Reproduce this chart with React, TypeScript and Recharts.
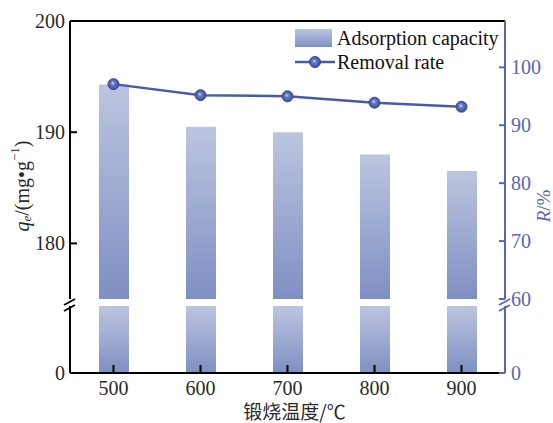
import React from 'react';
import {
  ComposedChart,
  Bar,
  Line,
  XAxis,
  YAxis,
  ReferenceLine,
  Legend
} from 'recharts';

// calcination temperature (°C)
const temperatures = ['500', '600', '700', '800', '900'];
// q_e, mg/g (left axis)
const adsorptionCapacity = [194.3, 190.5, 190.0, 188.0, 186.5];
// R, % (right axis)
const removalRate = [97.1, 95.2, 95.0, 93.9, 93.2];

const leftUpperTicks = [180, 190, 200];
const rightUpperTicks = [60, 70, 80, 90, 100];
const leftLowerTicks = [0];
const rightLowerTicks = [0];
const seriesNames = ['Adsorption capacity', 'Removal rate'];
const xAxisTitle = '锻烧温度/℃';

const chartData = temperatures.map((t, i) => ({
  temp: t,
  q: adsorptionCapacity[i],
  r: removalRate[i]
}));

const SERIF = '"Liberation Serif", "DejaVu Serif", serif';
const CJK = '"Noto Sans CJK SC", sans-serif';
const AXIS_BLUE = '#5767b3';
const LINE_BLUE = '#4a5aa8';
const BAR_TOP = '#bcc5e0';
const BAR_BOTTOM = '#7e8fc2';
const TEXT = '#2a2a2a';

const LeftTick = ({ x, y, payload }: any) => (
  <g>
    <line x1={x} y1={y} x2={x + 7} y2={y} stroke="#000" strokeWidth={2} />
    <text x={x - 5} y={y} dy={7} textAnchor="end" fontSize={20} fill={TEXT} fontFamily={SERIF}>
      {payload.value}
    </text>
  </g>
);

const RightTick = ({ x, y, payload }: any) => (
  <g>
    <line x1={x} y1={y} x2={x - 6} y2={y} stroke={AXIS_BLUE} strokeWidth={2} />
    <text x={x + 6} y={y} dy={7} textAnchor="start" fontSize={20} fill={AXIS_BLUE} fontFamily={SERIF}>
      {payload.value}
    </text>
  </g>
);

const BottomTick = ({ x, y, payload }: any) => (
  <g>
    <line x1={x} y1={y - 1} x2={x} y2={y - 8} stroke="#000" strokeWidth={2} />
    <text x={x} y={y + 22} textAnchor="middle" fontSize={20} fill={TEXT} fontFamily={SERIF}>
      {payload.value}
    </text>
  </g>
);

const LeftTitle = ({ viewBox }: any) => {
  const cx = viewBox.x + 22;
  const cy = viewBox.y + viewBox.height / 2 + 26;
  return (
    <text
      x={cx}
      y={cy}
      transform={`rotate(-90 ${cx} ${cy})`}
      textAnchor="middle"
      dominantBaseline="central"
      fontSize={20}
      fill={TEXT}
      fontFamily={SERIF}
    >
      <tspan fontStyle="italic">q</tspan>
      <tspan fontStyle="italic" fontSize={13} dy={4}>e</tspan>
      <tspan dy={-4}>/(mg•g</tspan>
      <tspan fontSize={13} dy={-8}>−1</tspan>
      <tspan dy={8}>)</tspan>
    </text>
  );
};

const RightTitle = ({ viewBox }: any) => {
  const cx = viewBox.x + 38;
  const cy = viewBox.y + 185;
  return (
    <text
      x={cx}
      y={cy}
      transform={`rotate(-90 ${cx} ${cy})`}
      textAnchor="middle"
      dominantBaseline="central"
      fontSize={19}
      fill={AXIS_BLUE}
      fontFamily={SERIF}
    >
      <tspan fontStyle="italic">R</tspan>
      <tspan>/%</tspan>
    </text>
  );
};

const BottomTitle = ({ viewBox }: any) => (
  <text
    x={viewBox.x + viewBox.width / 2 + 7}
    y={viewBox.y + 46}
    textAnchor="middle"
    fontSize={19}
    fill={TEXT}
    fontFamily={CJK}
  >
    {xAxisTitle}
  </text>
);

const LegendContent = () => (
  <div style={{ fontFamily: SERIF, fontSize: 20, color: '#111', lineHeight: '24px' }}>
    <div style={{ display: 'flex', alignItems: 'center', height: 24 }}>
      <svg width={37} height={18}>
        <defs>
          <linearGradient id="legendBarGrad" x1="0" y1="0" x2="0" y2="1">
            <stop offset="0%" stopColor={BAR_TOP} />
            <stop offset="100%" stopColor={BAR_BOTTOM} />
          </linearGradient>
        </defs>
        <rect width={37} height={18} fill="url(#legendBarGrad)" />
      </svg>
      <span style={{ marginLeft: 5, whiteSpace: 'nowrap' }}>{seriesNames[0]}</span>
    </div>
    <div style={{ display: 'flex', alignItems: 'center', height: 24 }}>
      <svg width={40} height={14}>
        <line x1={0} y1={7} x2={40} y2={7} stroke={LINE_BLUE} strokeWidth={2.5} />
        <circle cx={20} cy={7} r={5.5} fill="url(#markerGrad)" stroke="#3d4c99" strokeWidth={1} />
      </svg>
      <span style={{ marginLeft: 2, whiteSpace: 'nowrap' }}>{seriesNames[1]}</span>
    </div>
  </div>
);

const BreakMarks = ({ x, color }: { x: number; color: string }) => (
  <g stroke={color} strokeWidth={1.8}>
    <line x1={x - 6} y1={305} x2={x + 5} y2={299} />
    <line x1={x - 6} y1={311} x2={x + 5} y2={305} />
  </g>
);

export default function App() {
  return (
    <div style={{ position: 'absolute', left: 0, top: 0, width: 553, height: 423, background: '#fff' }}>
      {/* upper part of broken axes (extra bottom margin leaves room for the "60" label) */}
      <div style={{ position: 'absolute', left: 0, top: 0 }}>
        <ComposedChart
          width={553}
          height={312}
          data={chartData}
          margin={{ top: 21, right: 0, bottom: 13, left: 0 }}
        >
          <defs>
            <linearGradient id="barGrad" x1="0" y1="0" x2="0" y2="1">
              <stop offset="0%" stopColor={BAR_TOP} />
              <stop offset="100%" stopColor={BAR_BOTTOM} />
            </linearGradient>
            <radialGradient id="markerGrad" cx="0.5" cy="0.5" r="0.5" fx="0.42" fy="0.38">
              <stop offset="0%" stopColor="#d4daf0" />
              <stop offset="35%" stopColor="#6a7bc3" />
              <stop offset="100%" stopColor="#3b4a97" />
            </radialGradient>
          </defs>
          <XAxis dataKey="temp" hide />
          <YAxis
            yAxisId="left"
            width={70}
            domain={[175, 200]}
            ticks={leftUpperTicks}
            interval={0}
            allowDataOverflow
            axisLine={{ stroke: '#000', strokeWidth: 2 }}
            tickLine={false}
            tickSize={0}
            tickMargin={0}
            tick={<LeftTick />}
            label={<LeftTitle />}
          />
          <YAxis
            yAxisId="right"
            orientation="right"
            width={48}
            domain={[60, 108]}
            ticks={rightUpperTicks}
            interval={0}
            allowDataOverflow
            axisLine={{ stroke: AXIS_BLUE, strokeWidth: 2 }}
            tickLine={false}
            tickSize={0}
            tickMargin={0}
            tick={<RightTick />}
            label={<RightTitle />}
          />
          <ReferenceLine yAxisId="left" y={200} stroke="#000" strokeWidth={2} />
          <Bar
            yAxisId="left"
            dataKey="q"
            name={seriesNames[0]}
            barSize={30}
            fill="url(#barGrad)"
            isAnimationActive={false}
          />
          <Line
            yAxisId="right"
            dataKey="r"
            name={seriesNames[1]}
            stroke={LINE_BLUE}
            strokeWidth={2.5}
            dot={{ r: 5.5, fill: 'url(#markerGrad)', stroke: '#3d4c99', strokeWidth: 1 }}
            activeDot={false}
            isAnimationActive={false}
          />
          <Legend
            layout="vertical"
            align="center"
            verticalAlign="middle"
            content={<LegendContent />}
            wrapperStyle={{ top: 26, left: 295, width: 'auto' }}
          />
        </ComposedChart>
      </div>

      {/* lower part of broken axes */}
      <div style={{ position: 'absolute', left: 0, top: 306 }}>
        <ComposedChart
          width={553}
          height={117}
          data={chartData}
          margin={{ top: 0, right: 0, bottom: 0, left: 0 }}
        >
          <defs>
            <linearGradient id="barGradLow" gradientUnits="userSpaceOnUse" x1="0" y1="0" x2="0" y2="67">
              <stop offset="0%" stopColor={BAR_TOP} />
              <stop offset="100%" stopColor={BAR_BOTTOM} />
            </linearGradient>
          </defs>
          <XAxis
            dataKey="temp"
            height={50}
            interval={0}
            axisLine={{ stroke: '#000', strokeWidth: 2 }}
            tickLine={false}
            tickSize={0}
            tickMargin={0}
            tick={<BottomTick />}
            label={<BottomTitle />}
          />
          <YAxis
            yAxisId="left"
            width={70}
            domain={[0, 175]}
            ticks={leftLowerTicks}
            interval={0}
            allowDataOverflow
            axisLine={{ stroke: '#000', strokeWidth: 2 }}
            tickLine={false}
            tickSize={0}
            tickMargin={0}
            tick={<LeftTick />}
          />
          <YAxis
            yAxisId="right"
            orientation="right"
            width={48}
            domain={[0, 60]}
            ticks={rightLowerTicks}
            interval={0}
            allowDataOverflow
            axisLine={{ stroke: AXIS_BLUE, strokeWidth: 2 }}
            tickLine={false}
            tickSize={0}
            tickMargin={0}
            tick={<RightTick />}
          />
          <Bar
            yAxisId="left"
            dataKey="q"
            barSize={30}
            fill="url(#barGradLow)"
            isAnimationActive={false}
          />
        </ComposedChart>
      </div>

      <svg
        width={553}
        height={423}
        style={{ position: 'absolute', left: 0, top: 0, pointerEvents: 'none' }}
      >
        <BreakMarks x={70} color="#000" />
        <BreakMarks x={505} color={AXIS_BLUE} />
      </svg>
    </div>
  );
}
